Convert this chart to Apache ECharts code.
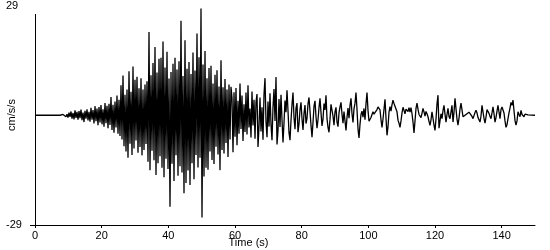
<!DOCTYPE html>
<html>
<head>
<meta charset="utf-8">
<script src="https://cdn.jsdelivr.net/npm/echarts@6/dist/echarts.min.js"></script>
<style>
html,body{margin:0;padding:0;background:#fff;}
#chart{width:550px;height:250px;}
</style>
</head>
<body>
<div id="chart"></div>
<script>
// Record window (s) and sampling of the acceleration trace
const recordStart = 0;
const recordEnd = 150;
const startTime = 7.5;
const sampleInterval = 0.3;

// Tick labels
const xTicks = [0, 20, 40, 60, 80, 100, 120, 140];
const yTicks = [-29, 29];
const xLabel = 'Time (s)';
const yLabel = 'cm/s/s';

// Acceleration samples (cm/s/s), 0.3 s apart from 7.5 s
const accel = [
  0, 0, 0, 0.2, -0.3, 0.5, -0.4, 0.3, -0.6, 0.7,
  -0.4, 1.0, -0.9, 0.6, -1.1, 1.3, -0.7, 0.9, -1.2, 1.1,
  -0.8, 1.5, -1.3, 0.7, -1.8, 1.2, -0.9, 1.6, -1.4, 0.9,
  -1.7, 2.0, -1.2, 1.4, -2.2, 2.4, -1.6, 1.8, -2.6, 2.2,
  -1.9, 2.7, -2.4, 1.6, -3.0, 3.2, -2.1, 2.5, -3.4, 3.0,
  -2.6, 4.8, -3.9, 2.8, -4.6, 3.6, -3.2, 5.2, -4.9, 4.1,
  -5.5, 7.9, -6.4, 10.5, -8.2, 5.4, -9.6, 6.8, -11.2, 11.6,
  -7.5, 6.2, -10.5, 12.9, -8.8, 9.4, -6.7, 10.2, -9.9, 7.1,
  -8.4, 9.8, -10.6, 6.8, -9.2, 8.1, -7.6, 9.0, -12.3, 22.0,
  -14.5, 10.6, -9.4, 13.8, -11.9, 18.0, -15.8, 11.3, -12.7, 14.9,
  -10.8, 15.2, -13.9, 19.5, -16.4, 12.6, -11.5, 16.8, -14.2, 9.7,
  -24.2, 11.4, -12.8, 13.6, -17.4, 15.2, -10.6, 12.1, -16.0, 14.3,
  -13.5, 25.0, -15.1, 10.4, -20.6, 19.8, -17.9, 12.3, -14.6, 14.1,
  -18.4, 10.9, -12.7, 16.6, -16.9, 11.8, -10.5, 21.6, -13.8, 15.3,
  -11.2, 28.2, -27.0, 13.4, -16.2, 17.0, -13.9, 9.8, -14.4, 12.5,
  -9.6, 13.1, -11.8, 8.4, -12.9, 10.7, -8.3, 11.9, -10.4, 7.6,
  -14.5, 14.5, -9.2, 7.4, -10.1, 9.6, -7.3, 6.8, -11.0, 8.1,
  -6.4, 7.5, 4.6, -9.8, 6.1, -5.7, 7.2, -7.9, 3.8, -4.9,
  8.4, -3.6, 5.2, -6.8, 2.9, -4.4, 6.0, -5.1, 7.9, -3.2,
  1.8, -5.9, 6.3, -2.7, 4.1, -6.2, 3.5, 5.6, -8.4, -2.9,
  4.7, -4.3, 2.1, -6.5, 5.5, 9.8, -1.7, -5.8, 3.6, -3.0,
  5.8, -2.4, -6.6, 2.2, 6.9, -1.5, 10.1, -7.7, -4.0, 4.3,
  -3.1, 5.4, -1.1, -7.2, -2.0, 3.9, 0.8, 6.6, 1.2, -4.6,
  -6.6, -1.4, 2.8, 6.0, -0.6, -3.7, 1.9, 3.2, -4.5, -2.3,
  1.4, 3.4, -1.0, -3.9, 0.5, 2.7, -2.2, -0.8, 3.0, 4.7,
  1.1, -2.6, -5.8, -1.9, 2.4, 3.8, -0.4, -3.4, -1.2, 2.0,
  4.5, 0.7, -2.8, -1.0, 3.1, 1.4, 5.3, -0.9, -3.2, -4.5,
  -1.1, 2.9, 3.4, -0.2, -2.6, 0.9, 2.1, -1.8, -3.0, 0.6,
  2.2, 3.4, 0.3, -2.1, 1.0, -1.5, -4.0, -0.6, 1.9, -0.8,
  2.6, 4.5, 0.4, -1.9, 1.7, 3.2, 6.0, 1.5, -3.6, -6.0,
  -2.4, 0.2, 1.1, -0.5, 1.8, -1.2, 3.0, 6.0, 1.3, -1.6,
  -1.6, -0.6, 0.2, 0.9, 0.3, -0.2, 0.7, 1.5, 2.2, 2.6,
  1.4, -1.2, -3.2, -1.0, 1.6, 4.2, -0.8, -5.3, -3.0, 0.8,
  2.3, 1.1, 2.8, 4.0, 3.1, 2.6, 3.2, 0.9, -1.3, -2.1,
  -3.2, -1.5, 0.6, 2.1, 1.3, 0.4, 1.6, 2.1, 1.0, 2.0,
  0.8, 2.0, 0.4, -1.8, -4.7, -1.5, 1.8, 3.2, 1.6, 0.2,
  0.5, -0.6, 0.5, 1.8, 0.9, -0.2, 1.0, 0.4, -0.4, -1.6,
  -2.7, -1.2, 0.9, -0.8, -2.6, -4.0, -1.0, 3.0, 5.3, -3.4,
  -1.5, 0.4, -0.9, 1.2, 2.6, 0.3, -1.8, 0.2, 1.8, -0.3,
  -0.9, 0.9, 2.6, -1.8, 0.8, 4.5, 1.7, -1.0, -2.6, -0.8,
  1.6, 3.2, 1.4, -0.4, -0.6, 0.1, 0.2, -0.1, 0.5, 0.8,
  0.5, 0.3, -0.3, -0.9, -0.4, 0.7, 1.3, 0.6, -0.6, -1.2,
  -1.8, -0.2, 2.6, 0.9, -0.8, -2.1, -0.5, 1.5, 1.8, 0.5,
  -0.3, -0.9, 0.6, 2.2, 0.4, -1.8, -0.6, 1.1, 2.6, 0.8,
  -0.9, 1.5, 2.2, 2.6, 0.6, -1.5, -3.2, -2.5, -0.9, 0.6,
  1.9, 3.4, 2.6, 4.0, 1.2, -1.4, -2.6, -1.5, 0.9, 0.2,
  -0.4, 1.3, 0.2, 0.6, -0.4, 0.3, -0.2, 0.2, 0.1, 0.2
];

const seriesData = [[recordStart, 0]];
accel.forEach(function (v, i) {
  seriesData.push([+(startTime + i * sampleInterval).toFixed(2), v]);
});
seriesData.push([recordEnd, 0]);

const font = 'Liberation Sans, Arial, sans-serif';
const chart = echarts.init(document.getElementById('chart'), null, {renderer: 'canvas'});
chart.setOption({
  animation: false,
  backgroundColor: '#fff',
  grid: {left: 35, right: 15, top: 5, bottom: 25, containLabel: false},
  xAxis: {
    type: 'value',
    min: recordStart,
    max: recordEnd,
    interval: 20,
    axisLine: {show: true, onZero: false, lineStyle: {color: '#000', width: 1}},
    axisTick: {show: true, length: 3, inside: false, customValues: xTicks, lineStyle: {color: '#000'}},
    axisLabel: {show: true, customValues: xTicks, color: '#000', fontSize: 11, fontFamily: font, margin: 5},
    splitLine: {show: false}
  },
  yAxis: {
    type: 'value',
    min: yTicks[0],
    max: yTicks[1],
    axisLine: {show: false},
    axisTick: {show: true, length: 5, inside: false, customValues: [yTicks[0]], lineStyle: {color: '#000'}},
    axisLabel: {show: true, customValues: yTicks, color: '#000', fontSize: 11, fontFamily: font, align: 'left', margin: 29},
    splitLine: {show: false}
  },
  graphic: [
    {type: 'line', shape: {x1: 35.5, y1: 14, x2: 35.5, y2: 225}, style: {stroke: '#000', lineWidth: 1}, silent: true},
    {type: 'text', x: 248.5, y: 243, style: {text: xLabel, fill: '#000', font: '11px ' + font, textAlign: 'center', textVerticalAlign: 'middle'}},
    {type: 'text', x: 12, y: 115, rotation: Math.PI / 2, style: {text: yLabel, fill: '#000', font: '11px ' + font, textAlign: 'center', textVerticalAlign: 'middle'}}
  ],
  series: [{
    type: 'line',
    data: seriesData,
    showSymbol: false,
    symbol: 'none',
    smooth: false,
    lineStyle: {color: '#000', width: 1.3},
    silent: true
  }]
});
</script>
</body>
</html>
